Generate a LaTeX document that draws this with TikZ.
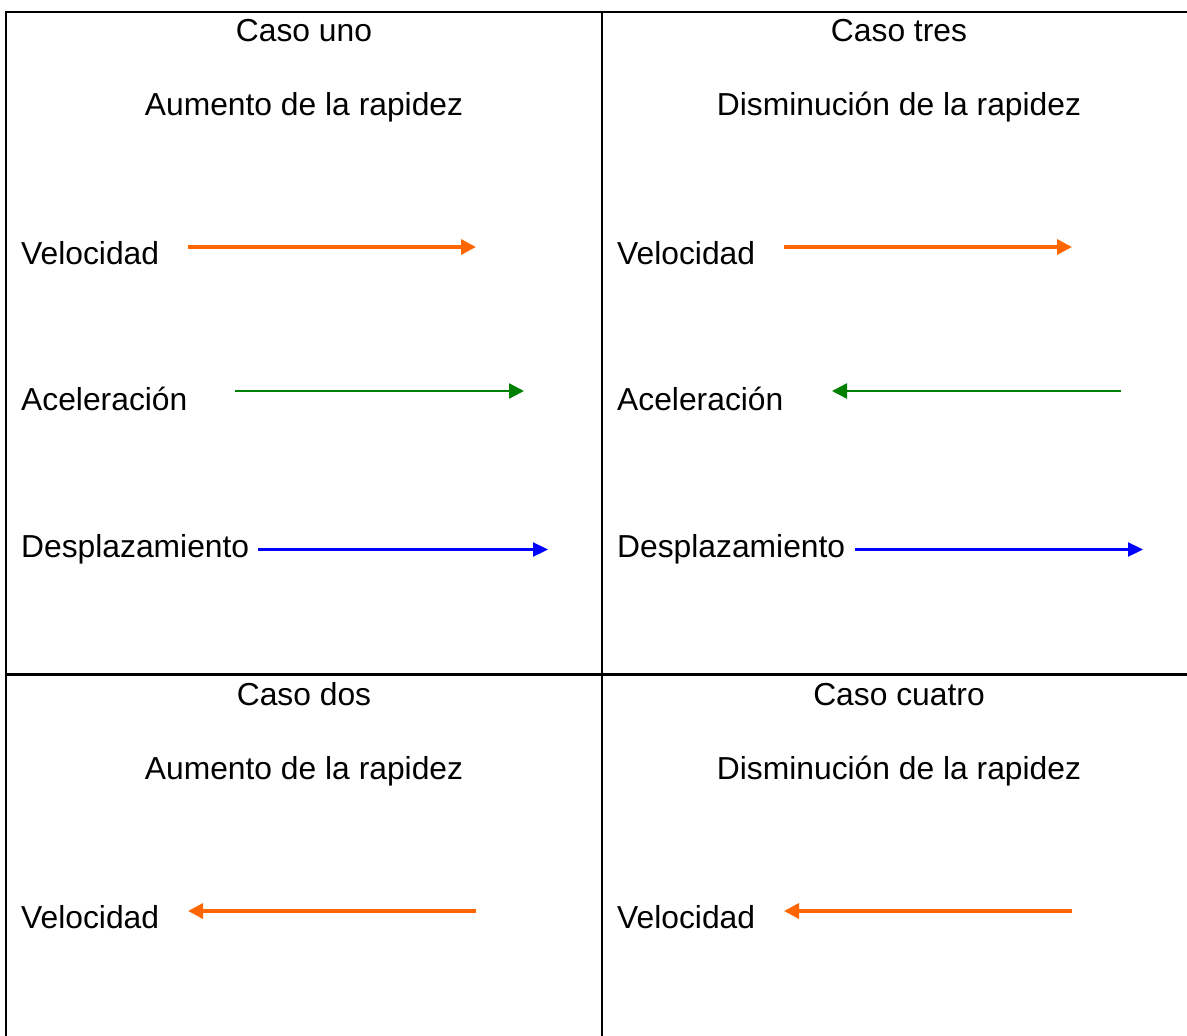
\documentclass[tikz,border=0pt]{standalone}
\usepackage{fontspec}
\setmainfont{Liberation Sans}
\usetikzlibrary{arrows.meta}
\definecolor{vorange}{HTML}{FF6600}
\definecolor{agreen}{HTML}{008000}
\definecolor{dblue}{HTML}{0000FF}
\begin{document}
\begin{tikzpicture}[x=1pt,y=-1pt,
  txt/.style={inner sep=0pt,font=\fontsize{31.8}{38}\selectfont},
  lbl/.style={txt,anchor=base west},
  ttl/.style={txt,anchor=base},
  grid/.style={line width=2.6pt,black},
  velarrow/.style={vorange,line width=3.4pt,-{Triangle[length=15pt,width=15pt]}},
  accarrow/.style={agreen,line width=2.5pt,-{Triangle[length=15pt,width=15pt]}},
  desarrow/.style={dblue,line width=2.3pt,-{Triangle[length=15pt,width=14pt]}}]
\useasboundingbox (0,0) rectangle (1187,1036);
% table lines
\coordinate (tl) at (6,12);
\coordinate (tr) at (1187,12);
\coordinate (bl) at (6,1036);
\coordinate (mt) at (602,12);
\coordinate (mb) at (602,1036);
\coordinate (hl) at (6,674.5);
\coordinate (hr) at (1187,674.5);
\draw[grid] (bl) -- (tl) -- (tr);
\draw[grid] (mt) -- (mb);
\draw[grid] (hl) -- (hr);
% cell 1
\node[ttl] (c1t) at (304,41) {Caso uno};
\node[ttl] (c1s) at (304,115) {Aumento de la rapidez};
\node[lbl] (c1v) at (21,264) {Velocidad};
\node[lbl] (c1a) at (21,410.5) {Aceleración};
\node[lbl] (c1d) at (21,557) {Desplazamiento};
\coordinate (c1v0) at (188,247); \coordinate (c1v1) at (476,247);
\coordinate (c1a0) at (235,391); \coordinate (c1a1) at (524,391);
\coordinate (c1d0) at (258,549.5); \coordinate (c1d1) at (548,549.5);
\draw[velarrow] (c1v0) -- (c1v1);
\draw[accarrow] (c1a0) -- (c1a1);
\draw[desarrow] (c1d0) -- (c1d1);
% cell 3
\node[ttl] (c3t) at (899,41) {Caso tres};
\node[ttl] (c3s) at (899,115) {Disminución de la rapidez};
\node[lbl] (c3v) at (617,264) {Velocidad};
\node[lbl] (c3a) at (617,410.5) {Aceleración};
\node[lbl] (c3d) at (617,557) {Desplazamiento};
\coordinate (c3v0) at (784,247); \coordinate (c3v1) at (1072,247);
\coordinate (c3a0) at (1121,391); \coordinate (c3a1) at (832,391);
\coordinate (c3d0) at (855,549.5); \coordinate (c3d1) at (1143,549.5);
\draw[velarrow] (c3v0) -- (c3v1);
\draw[accarrow] (c3a0) -- (c3a1);
\draw[desarrow] (c3d0) -- (c3d1);
% cell 2
\node[ttl] (c2t) at (304,705) {Caso dos};
\node[ttl] (c2s) at (304,779) {Aumento de la rapidez};
\node[lbl] (c2v) at (21,928) {Velocidad};
\coordinate (c2v0) at (476,911); \coordinate (c2v1) at (188,911);
\draw[velarrow] (c2v0) -- (c2v1);
% cell 4
\node[ttl] (c4t) at (899,705) {Caso cuatro};
\node[ttl] (c4s) at (899,779) {Disminución de la rapidez};
\node[lbl] (c4v) at (617,928) {Velocidad};
\coordinate (c4v0) at (1072,911); \coordinate (c4v1) at (784,911);
\draw[velarrow] (c4v0) -- (c4v1);
\end{tikzpicture}
\end{document}
